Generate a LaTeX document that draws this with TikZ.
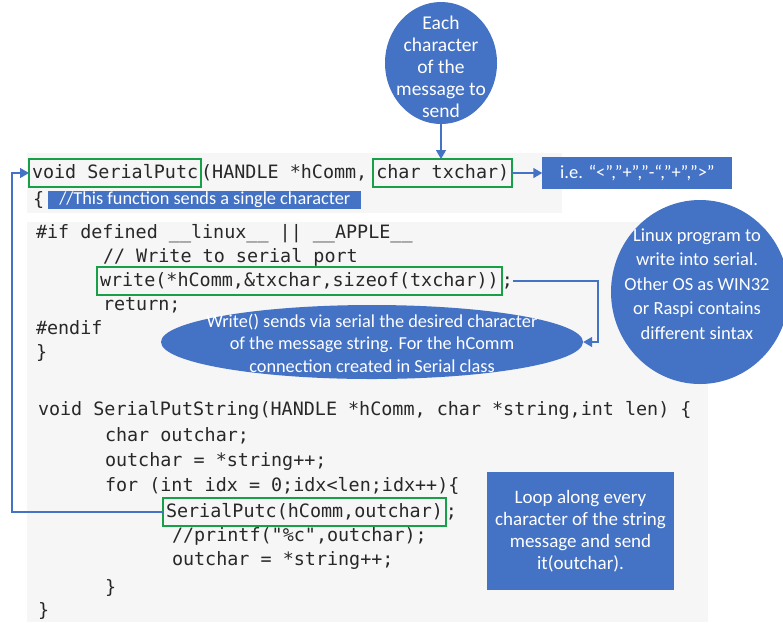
\documentclass[tikz,border=0pt]{standalone}
\usepackage{fontspec}
\usetikzlibrary{arrows.meta}
\usetikzlibrary{positioning}
\usetikzlibrary{shapes.geometric}
\newfontfamily\codefont{DejaVu Sans Mono}
\newfontfamily\notefont{Carlito}
\definecolor{officeblue}{RGB}{68,114,196}
\definecolor{hlgreen}{RGB}{24,160,72}
\definecolor{codebg}{RGB}{246,246,246}
\definecolor{codetext}{RGB}{40,40,40}
\tikzset{code/.style = {font=\codefont\fontsize{18.4}{24}\selectfont, text=codetext,
                        inner sep=0pt, outer sep=0pt, text height=14pt, text depth=4pt},
         hl/.style = {draw=hlgreen, line width=2pt, inner xsep=3pt, inner ysep=5pt},
         bluetext/.style = {font=\notefont\fontsize{18.5}{23}\selectfont, text=white, align=center},
         bluebox/.style = {bluetext, fill=officeblue, inner sep=0pt},
         bubble/.style = {ellipse, fill=officeblue, inner sep=0pt},
         link/.style = {draw=officeblue, line width=1.5pt, -{Triangle[length=9pt, width=10pt]}}}

\begin{document}
\begin{tikzpicture}[x=1pt, y=-1pt]
    \useasboundingbox (0, 0) rectangle (783, 622);
    \fill [codebg] (27, 153) rectangle (562, 213);
    \fill [codebg] (27, 222) rectangle (708, 622);

    % SerialPutc
    \node [code, hl, anchor=west] (putc) at (29, 173) {void SerialPutc};
    \node [code, right=0pt of putc] (args) {(HANDLE *hComm,};
    \node [code, hl, right=6pt of args] (txchar) {char txchar)};
    \node [code, anchor=west] (open1) at (33, 200) {\{};
    \node [bluebox, right=4pt of open1, minimum height=18pt, inner xsep=11pt,
           font=\notefont\fontsize{18.3}{18}\selectfont] (cmt)
          {//This function sends a single character};

    \node [code, anchor=west] (ifdef) at (36, 233) {\#if defined \_\_linux\_\_ || \_\_APPLE\_\_};
    \node [code, anchor=west] (wcmt) at (103, 257) {// Write to serial port};
    \node [code, hl, anchor=west] (wr) at (97, 281) {write(*hComm,\&txchar,sizeof(txchar))};
    \node [code, right=0pt of wr] (wrsemi) {;};
    \node [code, anchor=west] (ret) at (103, 305) {return;};
    \node [code, anchor=west] (endif) at (36, 329) {\#endif};
    \node [code, anchor=west] (close1) at (36, 353) {\}};

    % SerialPutString
    \node [code, anchor=west] (sps) at (38, 410) {void SerialPutString(HANDLE *hComm, char *string,int len) \{};
    \node [code, anchor=west] (decl) at (105, 436) {char outchar;};
    \node [code, anchor=west] (init) at (105, 461) {outchar = *string++;};
    \node [code, anchor=west] (forl) at (105, 486) {for (int idx = 0;idx<len;idx++)\{};
    \node [code, hl, anchor=west] (call) at (163, 512) {SerialPutc(hComm,outchar)};
    \node [code, right=0pt of call] (callsemi) {;};
    \node [code, anchor=west] (prf) at (172, 536) {//printf("\%c",outchar);};
    \node [code, anchor=west] (next) at (172, 560) {outchar = *string++;};
    \node [code, anchor=west] (close2) at (105, 588) {\}};
    \node [code, anchor=west] (close3) at (38, 611) {\}};

    % notes
    \node [bubble, minimum width=112pt, minimum height=122pt] (each) at (441, 63) {};
    \node [bluetext, font=\notefont\fontsize{19.5}{22}\selectfont] (eachtxt) at (441, 67)
          {Each\\character\\of the\\message to\\send};
    \node [bluebox, right=30pt of txchar, minimum width=190pt, minimum height=32pt] (example)
          {i.e. “<”,”+”,”-“,”+”,”>”};
    \node [ellipse, fill=officeblue, minimum width=422pt, minimum height=74pt, inner sep=0pt]
          (sendnote) at (372, 342) {};
    \node [bluetext, font=\notefont\fontsize{18.3}{22.5}\selectfont] (sendtxt) at (372, 343)
          {Write() sends via serial the desired character\\of the message string. For the hComm\\connection created in Serial class};
    \node [bubble, minimum width=178pt, minimum height=184pt] (osnote) at (700, 292) {};
    \node [bluetext, font=\notefont\fontsize{18.5}{24.5}\selectfont] (ostxt) at (697, 284)
          {Linux program to\\write into serial.\\Other OS as WIN32\\or Raspi contains\\different sintax};
    \node [bluebox, minimum width=187pt, minimum height=118pt, font=\notefont\fontsize{19}{22}\selectfont]
          (loopnote) at (580.5, 531) {Loop along every\\character of the string\\message and send\\it(outchar).};

    % links
    \coordinate (wrturn) at (598, 0);
    \coordinate (loopx) at (12, 0);
    \draw [link] (each.south) -- (each.south |- txchar.north);
    \draw [link] (txchar) -- (example);
    \draw [link] (wrsemi.east) -- (wrsemi.east -| wrturn) |- (sendnote.east);
    \draw [link] (call.west) -- (call.west -| loopx) |- (putc.west);
\end{tikzpicture}
\end{document}
